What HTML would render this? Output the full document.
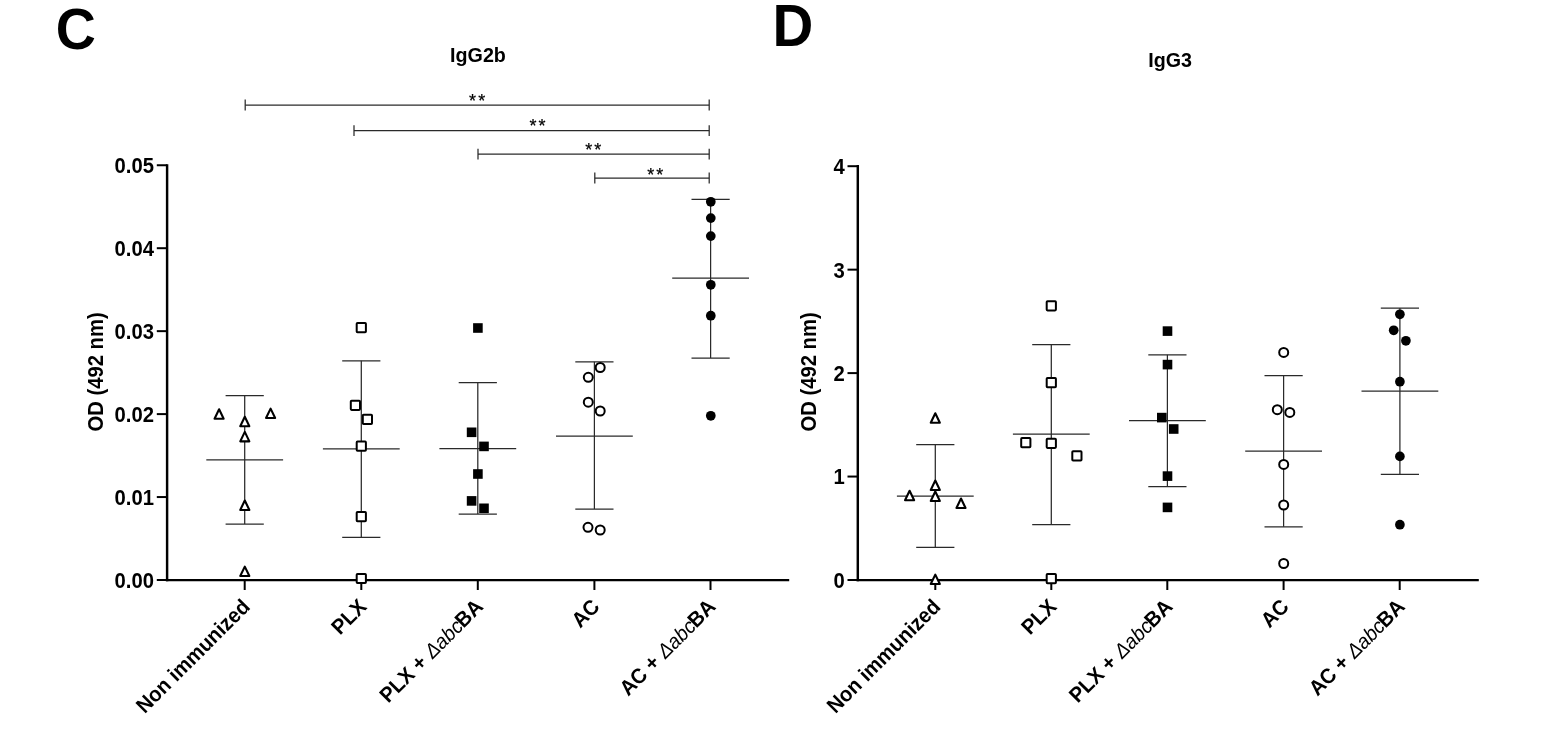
<!DOCTYPE html>
<html lang="en">
<head>
<meta charset="utf-8">
<title>IgG2b / IgG3</title>
<style>
html,body{margin:0;padding:0;background:#fff;}
body{width:1559px;height:744px;overflow:hidden;}
svg{display:block;font-family:"Liberation Sans", Arial, sans-serif;fill:#000;}
</style>
</head>
<body>
<svg width="1559" height="744" viewBox="0 0 1559 744">
<rect x="0" y="0" width="1559" height="744" fill="#fff" stroke="none"/>
<text transform="translate(55.7,48.6) scale(1,1.045)" font-size="55.5" font-weight="bold">C</text>
<text transform="translate(772.6,46.0) scale(1,1.049)" font-size="56.5" font-weight="bold">D</text>
<text x="478.0" y="61.5" font-size="19.7" font-weight="bold" text-anchor="middle">IgG2b</text>
<text x="1170.2" y="66.5" font-size="19.7" font-weight="bold" text-anchor="middle">IgG3</text>
<line x1="167.10" y1="164.18" x2="167.10" y2="581.23" stroke="#000" stroke-width="2.45"/>
<line x1="165.88" y1="580.10" x2="789.20" y2="580.10" stroke="#000" stroke-width="2.25"/>
<line x1="156.80" y1="165.25" x2="167.10" y2="165.25" stroke="#000" stroke-width="2.0"/>
<text transform="translate(154.00,173.15) scale(1,1.05)" font-size="20.25" font-weight="bold" text-anchor="end">0.05</text>
<line x1="156.80" y1="248.20" x2="167.10" y2="248.20" stroke="#000" stroke-width="2.0"/>
<text transform="translate(154.00,256.10) scale(1,1.05)" font-size="20.25" font-weight="bold" text-anchor="end">0.04</text>
<line x1="156.80" y1="331.15" x2="167.10" y2="331.15" stroke="#000" stroke-width="2.0"/>
<text transform="translate(154.00,339.05) scale(1,1.05)" font-size="20.25" font-weight="bold" text-anchor="end">0.03</text>
<line x1="156.80" y1="414.10" x2="167.10" y2="414.10" stroke="#000" stroke-width="2.0"/>
<text transform="translate(154.00,422.00) scale(1,1.05)" font-size="20.25" font-weight="bold" text-anchor="end">0.02</text>
<line x1="156.80" y1="497.05" x2="167.10" y2="497.05" stroke="#000" stroke-width="2.0"/>
<text transform="translate(154.00,504.95) scale(1,1.05)" font-size="20.25" font-weight="bold" text-anchor="end">0.01</text>
<line x1="156.80" y1="580.00" x2="167.10" y2="580.00" stroke="#000" stroke-width="2.0"/>
<text transform="translate(154.00,587.90) scale(1,1.05)" font-size="20.25" font-weight="bold" text-anchor="end">0.00</text>
<line x1="244.70" y1="580.00" x2="244.70" y2="590.00" stroke="#000" stroke-width="2.0"/>
<line x1="361.30" y1="580.00" x2="361.30" y2="590.00" stroke="#000" stroke-width="2.0"/>
<line x1="477.80" y1="580.00" x2="477.80" y2="590.00" stroke="#000" stroke-width="2.0"/>
<line x1="594.40" y1="580.00" x2="594.40" y2="590.00" stroke="#000" stroke-width="2.0"/>
<line x1="710.50" y1="580.00" x2="710.50" y2="590.00" stroke="#000" stroke-width="2.0"/>
<text transform="translate(103.20,371.9) rotate(-90) scale(1,1.05)" font-size="20.25" font-weight="bold" text-anchor="middle">OD (492 nm)</text>
<line x1="244.70" y1="395.60" x2="244.70" y2="524.10" stroke="#2a2a2a" stroke-width="1.25"/>
<line x1="225.60" y1="395.60" x2="263.80" y2="395.60" stroke="#2a2a2a" stroke-width="1.25"/>
<line x1="225.60" y1="524.10" x2="263.80" y2="524.10" stroke="#2a2a2a" stroke-width="1.25"/>
<line x1="206.30" y1="459.90" x2="283.10" y2="459.90" stroke="#2a2a2a" stroke-width="1.25"/>
<polygon points="219.10,409.30 223.65,418.75 214.55,418.75" fill="#fff" stroke="#000" stroke-width="2.1" stroke-linejoin="round"/>
<polygon points="270.60,408.60 275.15,418.05 266.05,418.05" fill="#fff" stroke="#000" stroke-width="2.1" stroke-linejoin="round"/>
<polygon points="244.80,416.80 249.35,426.25 240.25,426.25" fill="#fff" stroke="#000" stroke-width="2.1" stroke-linejoin="round"/>
<polygon points="244.80,431.90 249.35,441.35 240.25,441.35" fill="#fff" stroke="#000" stroke-width="2.1" stroke-linejoin="round"/>
<polygon points="244.80,500.50 249.35,509.95 240.25,509.95" fill="#fff" stroke="#000" stroke-width="2.1" stroke-linejoin="round"/>
<polygon points="244.80,566.60 249.35,576.05 240.25,576.05" fill="#fff" stroke="#000" stroke-width="2.1" stroke-linejoin="round"/>
<line x1="361.30" y1="360.80" x2="361.30" y2="537.30" stroke="#2a2a2a" stroke-width="1.25"/>
<line x1="342.20" y1="360.80" x2="380.40" y2="360.80" stroke="#2a2a2a" stroke-width="1.25"/>
<line x1="342.20" y1="537.30" x2="380.40" y2="537.30" stroke="#2a2a2a" stroke-width="1.25"/>
<line x1="322.90" y1="448.90" x2="399.70" y2="448.90" stroke="#2a2a2a" stroke-width="1.25"/>
<rect x="356.70" y="323.00" width="9.2" height="9.2" rx="0.8" fill="#fff" stroke="#000" stroke-width="2"/>
<rect x="350.80" y="400.70" width="9.2" height="9.2" rx="0.8" fill="#fff" stroke="#000" stroke-width="2"/>
<rect x="362.80" y="414.80" width="9.2" height="9.2" rx="0.8" fill="#fff" stroke="#000" stroke-width="2"/>
<rect x="356.70" y="441.60" width="9.2" height="9.2" rx="0.8" fill="#fff" stroke="#000" stroke-width="2"/>
<rect x="356.70" y="512.00" width="9.2" height="9.2" rx="0.8" fill="#fff" stroke="#000" stroke-width="2"/>
<rect x="356.70" y="573.90" width="9.2" height="9.2" rx="0.8" fill="#fff" stroke="#000" stroke-width="2"/>
<line x1="477.80" y1="382.60" x2="477.80" y2="514.10" stroke="#2a2a2a" stroke-width="1.25"/>
<line x1="458.70" y1="382.60" x2="496.90" y2="382.60" stroke="#2a2a2a" stroke-width="1.25"/>
<line x1="458.70" y1="514.10" x2="496.90" y2="514.10" stroke="#2a2a2a" stroke-width="1.25"/>
<line x1="439.40" y1="448.50" x2="516.20" y2="448.50" stroke="#2a2a2a" stroke-width="1.25"/>
<rect x="473.10" y="323.20" width="9.6" height="9.6" fill="#000"/>
<rect x="466.80" y="427.50" width="9.6" height="9.6" fill="#000"/>
<rect x="479.20" y="441.60" width="9.6" height="9.6" fill="#000"/>
<rect x="473.10" y="469.20" width="9.6" height="9.6" fill="#000"/>
<rect x="466.80" y="496.10" width="9.6" height="9.6" fill="#000"/>
<rect x="479.20" y="503.50" width="9.6" height="9.6" fill="#000"/>
<line x1="594.40" y1="361.80" x2="594.40" y2="509.00" stroke="#2a2a2a" stroke-width="1.25"/>
<line x1="575.30" y1="361.80" x2="613.50" y2="361.80" stroke="#2a2a2a" stroke-width="1.25"/>
<line x1="575.30" y1="509.00" x2="613.50" y2="509.00" stroke="#2a2a2a" stroke-width="1.25"/>
<line x1="556.00" y1="436.00" x2="632.80" y2="436.00" stroke="#2a2a2a" stroke-width="1.25"/>
<circle cx="600.20" cy="367.50" r="4.5" fill="#fff" stroke="#000" stroke-width="2"/>
<circle cx="588.30" cy="377.30" r="4.5" fill="#fff" stroke="#000" stroke-width="2"/>
<circle cx="588.30" cy="402.20" r="4.5" fill="#fff" stroke="#000" stroke-width="2"/>
<circle cx="600.20" cy="411.00" r="4.5" fill="#fff" stroke="#000" stroke-width="2"/>
<circle cx="588.00" cy="527.30" r="4.5" fill="#fff" stroke="#000" stroke-width="2"/>
<circle cx="600.20" cy="530.00" r="4.5" fill="#fff" stroke="#000" stroke-width="2"/>
<line x1="710.60" y1="199.30" x2="710.60" y2="358.00" stroke="#2a2a2a" stroke-width="1.25"/>
<line x1="691.50" y1="199.30" x2="729.70" y2="199.30" stroke="#2a2a2a" stroke-width="1.25"/>
<line x1="691.50" y1="358.00" x2="729.70" y2="358.00" stroke="#2a2a2a" stroke-width="1.25"/>
<line x1="672.20" y1="278.20" x2="749.00" y2="278.20" stroke="#2a2a2a" stroke-width="1.25"/>
<circle cx="710.80" cy="201.80" r="4.85" fill="#000"/>
<circle cx="710.80" cy="218.10" r="4.85" fill="#000"/>
<circle cx="710.80" cy="236.10" r="4.85" fill="#000"/>
<circle cx="710.80" cy="284.80" r="4.85" fill="#000"/>
<circle cx="710.80" cy="315.70" r="4.85" fill="#000"/>
<circle cx="710.80" cy="415.80" r="4.85" fill="#000"/>
<line x1="245.20" y1="105.00" x2="709.20" y2="105.00" stroke="#2a2a2a" stroke-width="1.25"/>
<line x1="245.20" y1="99.60" x2="245.20" y2="110.40" stroke="#2a2a2a" stroke-width="1.25"/>
<line x1="709.20" y1="99.60" x2="709.20" y2="110.40" stroke="#2a2a2a" stroke-width="1.25"/>
<text x="472.60" y="107.40" font-size="18" text-anchor="middle" stroke="#000" stroke-width="0.2">*</text>
<text x="481.70" y="107.40" font-size="18" text-anchor="middle" stroke="#000" stroke-width="0.2">*</text>
<line x1="354.00" y1="130.70" x2="709.20" y2="130.70" stroke="#2a2a2a" stroke-width="1.25"/>
<line x1="354.00" y1="125.30" x2="354.00" y2="136.10" stroke="#2a2a2a" stroke-width="1.25"/>
<line x1="709.20" y1="125.30" x2="709.20" y2="136.10" stroke="#2a2a2a" stroke-width="1.25"/>
<text x="533.00" y="131.80" font-size="18" text-anchor="middle" stroke="#000" stroke-width="0.2">*</text>
<text x="542.10" y="131.80" font-size="18" text-anchor="middle" stroke="#000" stroke-width="0.2">*</text>
<line x1="478.00" y1="154.10" x2="709.20" y2="154.10" stroke="#2a2a2a" stroke-width="1.25"/>
<line x1="478.00" y1="148.70" x2="478.00" y2="159.50" stroke="#2a2a2a" stroke-width="1.25"/>
<line x1="709.20" y1="148.70" x2="709.20" y2="159.50" stroke="#2a2a2a" stroke-width="1.25"/>
<text x="588.70" y="156.10" font-size="18" text-anchor="middle" stroke="#000" stroke-width="0.2">*</text>
<text x="597.80" y="156.10" font-size="18" text-anchor="middle" stroke="#000" stroke-width="0.2">*</text>
<line x1="594.80" y1="178.00" x2="709.20" y2="178.00" stroke="#2a2a2a" stroke-width="1.25"/>
<line x1="594.80" y1="172.60" x2="594.80" y2="183.40" stroke="#2a2a2a" stroke-width="1.25"/>
<line x1="709.20" y1="172.60" x2="709.20" y2="183.40" stroke="#2a2a2a" stroke-width="1.25"/>
<text x="650.70" y="180.70" font-size="18" text-anchor="middle" stroke="#000" stroke-width="0.2">*</text>
<text x="659.80" y="180.70" font-size="18" text-anchor="middle" stroke="#000" stroke-width="0.2">*</text>
<text transform="translate(251.10,608.00) rotate(-45) scale(1,1.05)" font-size="20.2" font-weight="bold" text-anchor="end">Non immunized</text>
<text transform="translate(367.70,608.00) rotate(-45) scale(1,1.05)" font-size="20.2" font-weight="bold" text-anchor="end">PLX</text>
<text transform="translate(484.20,608.00) rotate(-45) scale(1,1.05)" font-size="20.2" font-weight="bold" text-anchor="end">PLX + <tspan font-weight="normal" font-style="italic" font-size="19.6" dx="0.5">Δabc</tspan><tspan dx="-1.1">BA</tspan></text>
<text transform="translate(600.80,608.00) rotate(-45) scale(1,1.05)" font-size="20.2" font-weight="bold" text-anchor="end">AC</text>
<text transform="translate(716.90,608.00) rotate(-45) scale(1,1.05)" font-size="20.2" font-weight="bold" text-anchor="end">AC + <tspan font-weight="normal" font-style="italic" font-size="19.6" dx="0.5">Δabc</tspan><tspan dx="-1.1">BA</tspan></text>
<line x1="857.80" y1="165.12" x2="857.80" y2="581.23" stroke="#000" stroke-width="2.45"/>
<line x1="856.57" y1="580.10" x2="1478.80" y2="580.10" stroke="#000" stroke-width="2.25"/>
<line x1="847.50" y1="166.20" x2="857.80" y2="166.20" stroke="#000" stroke-width="2.0"/>
<text transform="translate(844.80,174.10) scale(1,1.05)" font-size="20.25" font-weight="bold" text-anchor="end">4</text>
<line x1="847.50" y1="269.65" x2="857.80" y2="269.65" stroke="#000" stroke-width="2.0"/>
<text transform="translate(844.80,277.55) scale(1,1.05)" font-size="20.25" font-weight="bold" text-anchor="end">3</text>
<line x1="847.50" y1="373.10" x2="857.80" y2="373.10" stroke="#000" stroke-width="2.0"/>
<text transform="translate(844.80,381.00) scale(1,1.05)" font-size="20.25" font-weight="bold" text-anchor="end">2</text>
<line x1="847.50" y1="476.55" x2="857.80" y2="476.55" stroke="#000" stroke-width="2.0"/>
<text transform="translate(844.80,484.45) scale(1,1.05)" font-size="20.25" font-weight="bold" text-anchor="end">1</text>
<line x1="847.50" y1="580.00" x2="857.80" y2="580.00" stroke="#000" stroke-width="2.0"/>
<text transform="translate(844.80,587.90) scale(1,1.05)" font-size="20.25" font-weight="bold" text-anchor="end">0</text>
<line x1="935.30" y1="580.00" x2="935.30" y2="590.00" stroke="#000" stroke-width="2.0"/>
<line x1="1051.30" y1="580.00" x2="1051.30" y2="590.00" stroke="#000" stroke-width="2.0"/>
<line x1="1167.30" y1="580.00" x2="1167.30" y2="590.00" stroke="#000" stroke-width="2.0"/>
<line x1="1283.60" y1="580.00" x2="1283.60" y2="590.00" stroke="#000" stroke-width="2.0"/>
<line x1="1399.70" y1="580.00" x2="1399.70" y2="590.00" stroke="#000" stroke-width="2.0"/>
<text transform="translate(815.90,371.9) rotate(-90) scale(1,1.05)" font-size="20.25" font-weight="bold" text-anchor="middle">OD (492 nm)</text>
<line x1="935.30" y1="444.70" x2="935.30" y2="547.30" stroke="#2a2a2a" stroke-width="1.25"/>
<line x1="916.20" y1="444.70" x2="954.40" y2="444.70" stroke="#2a2a2a" stroke-width="1.25"/>
<line x1="916.20" y1="547.30" x2="954.40" y2="547.30" stroke="#2a2a2a" stroke-width="1.25"/>
<line x1="896.90" y1="496.10" x2="973.70" y2="496.10" stroke="#2a2a2a" stroke-width="1.25"/>
<polygon points="935.30,413.30 939.85,422.75 930.75,422.75" fill="#fff" stroke="#000" stroke-width="2.1" stroke-linejoin="round"/>
<polygon points="935.30,480.50 939.85,489.95 930.75,489.95" fill="#fff" stroke="#000" stroke-width="2.1" stroke-linejoin="round"/>
<polygon points="935.30,491.50 939.85,500.95 930.75,500.95" fill="#fff" stroke="#000" stroke-width="2.1" stroke-linejoin="round"/>
<polygon points="909.60,490.80 914.15,500.25 905.05,500.25" fill="#fff" stroke="#000" stroke-width="2.1" stroke-linejoin="round"/>
<polygon points="961.00,498.50 965.55,507.95 956.45,507.95" fill="#fff" stroke="#000" stroke-width="2.1" stroke-linejoin="round"/>
<polygon points="935.30,574.60 939.85,584.05 930.75,584.05" fill="#fff" stroke="#000" stroke-width="2.1" stroke-linejoin="round"/>
<line x1="1051.30" y1="344.50" x2="1051.30" y2="524.70" stroke="#2a2a2a" stroke-width="1.25"/>
<line x1="1032.20" y1="344.50" x2="1070.40" y2="344.50" stroke="#2a2a2a" stroke-width="1.25"/>
<line x1="1032.20" y1="524.70" x2="1070.40" y2="524.70" stroke="#2a2a2a" stroke-width="1.25"/>
<line x1="1012.90" y1="434.10" x2="1089.70" y2="434.10" stroke="#2a2a2a" stroke-width="1.25"/>
<rect x="1046.70" y="301.20" width="9.2" height="9.2" rx="0.8" fill="#fff" stroke="#000" stroke-width="2"/>
<rect x="1046.70" y="378.00" width="9.2" height="9.2" rx="0.8" fill="#fff" stroke="#000" stroke-width="2"/>
<rect x="1021.20" y="438.10" width="9.2" height="9.2" rx="0.8" fill="#fff" stroke="#000" stroke-width="2"/>
<rect x="1046.70" y="438.70" width="9.2" height="9.2" rx="0.8" fill="#fff" stroke="#000" stroke-width="2"/>
<rect x="1072.30" y="451.30" width="9.2" height="9.2" rx="0.8" fill="#fff" stroke="#000" stroke-width="2"/>
<rect x="1046.70" y="574.00" width="9.2" height="9.2" rx="0.8" fill="#fff" stroke="#000" stroke-width="2"/>
<line x1="1167.40" y1="354.80" x2="1167.40" y2="486.50" stroke="#2a2a2a" stroke-width="1.25"/>
<line x1="1148.30" y1="354.80" x2="1186.50" y2="354.80" stroke="#2a2a2a" stroke-width="1.25"/>
<line x1="1148.30" y1="486.50" x2="1186.50" y2="486.50" stroke="#2a2a2a" stroke-width="1.25"/>
<line x1="1129.00" y1="420.70" x2="1205.80" y2="420.70" stroke="#2a2a2a" stroke-width="1.25"/>
<rect x="1162.70" y="326.30" width="9.6" height="9.6" fill="#000"/>
<rect x="1162.70" y="359.80" width="9.6" height="9.6" fill="#000"/>
<rect x="1157.00" y="412.80" width="9.6" height="9.6" fill="#000"/>
<rect x="1168.90" y="424.20" width="9.6" height="9.6" fill="#000"/>
<rect x="1162.70" y="471.30" width="9.6" height="9.6" fill="#000"/>
<rect x="1162.70" y="502.60" width="9.6" height="9.6" fill="#000"/>
<line x1="1283.60" y1="375.60" x2="1283.60" y2="526.80" stroke="#2a2a2a" stroke-width="1.25"/>
<line x1="1264.50" y1="375.60" x2="1302.70" y2="375.60" stroke="#2a2a2a" stroke-width="1.25"/>
<line x1="1264.50" y1="526.80" x2="1302.70" y2="526.80" stroke="#2a2a2a" stroke-width="1.25"/>
<line x1="1245.20" y1="451.10" x2="1322.00" y2="451.10" stroke="#2a2a2a" stroke-width="1.25"/>
<circle cx="1283.70" cy="352.40" r="4.5" fill="#fff" stroke="#000" stroke-width="2"/>
<circle cx="1277.30" cy="409.70" r="4.5" fill="#fff" stroke="#000" stroke-width="2"/>
<circle cx="1289.80" cy="412.40" r="4.5" fill="#fff" stroke="#000" stroke-width="2"/>
<circle cx="1283.70" cy="464.40" r="4.5" fill="#fff" stroke="#000" stroke-width="2"/>
<circle cx="1283.70" cy="505.00" r="4.5" fill="#fff" stroke="#000" stroke-width="2"/>
<circle cx="1283.70" cy="563.50" r="4.5" fill="#fff" stroke="#000" stroke-width="2"/>
<line x1="1399.90" y1="308.00" x2="1399.90" y2="474.30" stroke="#2a2a2a" stroke-width="1.25"/>
<line x1="1380.80" y1="308.00" x2="1419.00" y2="308.00" stroke="#2a2a2a" stroke-width="1.25"/>
<line x1="1380.80" y1="474.30" x2="1419.00" y2="474.30" stroke="#2a2a2a" stroke-width="1.25"/>
<line x1="1361.50" y1="391.00" x2="1438.30" y2="391.00" stroke="#2a2a2a" stroke-width="1.25"/>
<circle cx="1399.90" cy="314.30" r="4.85" fill="#000"/>
<circle cx="1393.70" cy="330.30" r="4.85" fill="#000"/>
<circle cx="1405.90" cy="340.80" r="4.85" fill="#000"/>
<circle cx="1399.90" cy="381.70" r="4.85" fill="#000"/>
<circle cx="1399.90" cy="456.40" r="4.85" fill="#000"/>
<circle cx="1399.90" cy="524.70" r="4.85" fill="#000"/>
<text transform="translate(941.70,608.00) rotate(-45) scale(1,1.05)" font-size="20.2" font-weight="bold" text-anchor="end">Non immunized</text>
<text transform="translate(1057.70,608.00) rotate(-45) scale(1,1.05)" font-size="20.2" font-weight="bold" text-anchor="end">PLX</text>
<text transform="translate(1173.70,608.00) rotate(-45) scale(1,1.05)" font-size="20.2" font-weight="bold" text-anchor="end">PLX + <tspan font-weight="normal" font-style="italic" font-size="19.6" dx="0.5">Δabc</tspan><tspan dx="-1.1">BA</tspan></text>
<text transform="translate(1290.00,608.00) rotate(-45) scale(1,1.05)" font-size="20.2" font-weight="bold" text-anchor="end">AC</text>
<text transform="translate(1406.10,608.00) rotate(-45) scale(1,1.05)" font-size="20.2" font-weight="bold" text-anchor="end">AC + <tspan font-weight="normal" font-style="italic" font-size="19.6" dx="0.5">Δabc</tspan><tspan dx="-1.1">BA</tspan></text>
</svg>
</body>
</html>
